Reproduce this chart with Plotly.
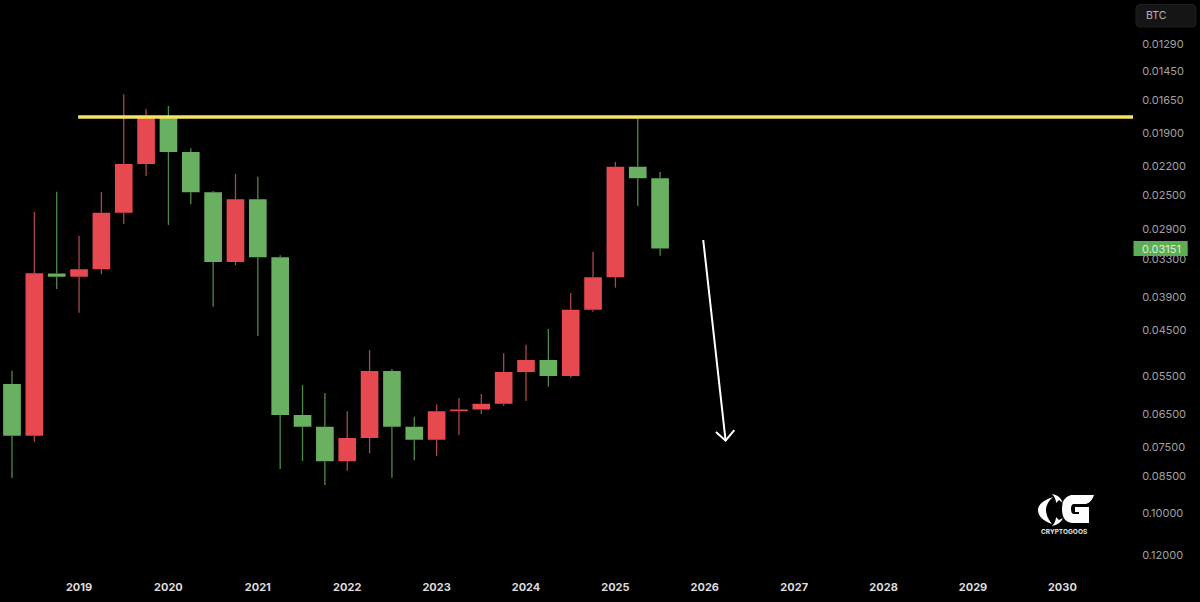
import numpy as np
import plotly.graph_objects as go

# quarterly candles, BTC pair on an inverted log axis (first candle Q2 2018)
candle_open = [0.05690, 0.07131, 0.03513, 0.03562, 0.03449, 0.02694, 0.02178, 0.01774, 0.02067, 0.02464,
               0.03341, 0.02541, 0.03273, 0.06514, 0.06856, 0.07974, 0.07203, 0.05376, 0.06856, 0.07256,
               0.06410, 0.06360, 0.06201, 0.05400, 0.05124, 0.05494, 0.04114, 0.03572, 0.02204, 0.02318]
candle_close = [0.07131, 0.03510, 0.03562, 0.03449, 0.02694, 0.02178, 0.01774, 0.02067, 0.02464, 0.03341,
                0.02541, 0.03273, 0.06514, 0.06856, 0.07974, 0.07203, 0.05376, 0.06856, 0.07256, 0.06410,
                0.06360, 0.06201, 0.05400, 0.05124, 0.05494, 0.04114, 0.03572, 0.02204, 0.02318, 0.03151]
candle_high = [0.08577, 0.07320, 0.03759, 0.04168, 0.03525, 0.02830, 0.02295, 0.02842, 0.02597, 0.04061,
               0.03389, 0.04615, 0.08247, 0.07964, 0.08843, 0.08308, 0.07700, 0.08566, 0.07939, 0.07791,
               0.07109, 0.06486, 0.06255, 0.06129, 0.05758, 0.05536, 0.04150, 0.03737, 0.02616, 0.03250]
candle_low = [0.05369, 0.02682, 0.02458, 0.02978, 0.02461, 0.01607, 0.01713, 0.01691, 0.02034, 0.02451,
              0.02273, 0.02302, 0.03244, 0.05715, 0.05918, 0.06410, 0.04906, 0.05329, 0.06562, 0.06218,
              0.06049, 0.05944, 0.04977, 0.04793, 0.04476, 0.03825, 0.03194, 0.02159, 0.01774, 0.02255]

year_ticks = [3, 7, 11, 15, 19, 23, 27, 31, 35, 39, 43, 47]
year_labels = ["2019", "2020", "2021", "2022", "2023", "2024", "2025", "2026", "2027", "2028", "2029", "2030"]
price_ticks = [0.0129, 0.0145, 0.0165, 0.019, 0.022, 0.025, 0.029, 0.033, 0.039, 0.045, 0.055, 0.065, 0.075,
               0.085, 0.10, 0.12]
price_labels = ["0.01290", "0.01450", "0.01650", "0.01900", "0.02200", "0.02500", "0.02900", "0.03300",
                "0.03900", "0.04500", "0.05500", "0.06500", "0.07500", "0.08500", "0.10000", "0.12000"]

resistance_x = [2.96, 50.2]
resistance_y = [0.01774, 0.01774]
arrow_x = [30.93, 31.93, None, 31.50, 31.93, 32.32]
arrow_y = [0.03035, 0.07287, None, 0.07016, 0.07287, 0.06956]
last_price = "0.03151"

GREEN = "#69b060"
RED = "#e64a50"
GREEN_WICK = "#4d8a4a"
RED_WICK = "#a9474a"
PLOT_W = 1133
PLOT_H = 575

idx = np.arange(len(candle_open))
body_top = np.minimum(candle_open, candle_close)
body_bot = np.maximum(candle_open, candle_close)


def wick_path(up):
    # upper and lower wick as separate segments so they don't cross the body
    xs, ys = [], []
    for i in idx:
        if (candle_close[i] > candle_open[i]) != up:
            continue
        xs += [i, i, None, i, i, None]
        ys += [candle_low[i], body_top[i], None, body_bot[i], candle_high[i], None]
    return xs, ys


def px(x):
    return x / PLOT_W


def py(y):
    return 1 - y / PLOT_H


def pixel_path(points):
    # M/L/Q path written in screen pixels, converted to paper coords
    out = []
    for cmd, *vals in points:
        coords = []
        for j in range(0, len(vals), 2):
            coords.append(f"{px(vals[j]):.5f},{py(vals[j + 1]):.5f}")
        out.append(cmd + " ".join(coords))
    return " ".join(out) + " Z"


fig = go.Figure()

fig.add_trace(go.Candlestick(
    x=idx, open=candle_open, close=candle_close, high=body_bot, low=body_top,
    increasing=dict(fillcolor=GREEN, line=dict(color=GREEN, width=0)),
    decreasing=dict(fillcolor=RED, line=dict(color=RED, width=0)),
    hoverinfo="skip", showlegend=False,
))

for up, col in [(True, GREEN_WICK), (False, RED_WICK)]:
    wx, wy = wick_path(up)
    fig.add_trace(go.Scatter(x=wx, y=wy, mode="lines", line=dict(color=col, width=1.3),
                             hoverinfo="skip", showlegend=False))

fig.add_trace(go.Scatter(x=resistance_x, y=resistance_y, mode="lines",
                         line=dict(color="#f6e35f", width=3.5), hoverinfo="skip", showlegend=False))
fig.add_trace(go.Scatter(x=arrow_x, y=arrow_y, mode="lines",
                         line=dict(color="#ffffff", width=2), hoverinfo="skip", showlegend=False))

shapes = [
    # BTC box
    dict(type="path", xref="paper", yref="paper", layer="above", fillcolor="#151515",
         line=dict(color="#1e1e1e", width=1),
         path=pixel_path([("M", 1140, 4.5), ("L", 1192, 4.5), ("Q", 1196, 4.5, 1196, 8.5), ("L", 1196, 23),
                          ("Q", 1196, 27, 1192, 27), ("L", 1140, 27), ("Q", 1136, 27, 1136, 23),
                          ("L", 1136, 8.5), ("Q", 1136, 4.5, 1140, 4.5)])),
    # last price tag
    dict(type="rect", xref="paper", yref="paper", layer="above", fillcolor="#5dad55", line=dict(width=0),
         x0=px(1133.5), x1=px(1187.7), y0=py(241), y1=py(256)),
    # logo: C crescent and swooshes, G with wing
    dict(type="path", xref="paper", yref="paper", layer="above", fillcolor="#ffffff", line=dict(width=0),
         path=pixel_path([("M", 1053, 497), ("Q", 1038, 502, 1038, 510), ("Q", 1038, 519, 1052, 524),
                          ("Q", 1046, 517, 1046, 510), ("Q", 1046, 503, 1053, 497)])),
    dict(type="path", xref="paper", yref="paper", layer="above", fillcolor="#ffffff", line=dict(width=0),
         path=pixel_path([("M", 1052, 494), ("Q", 1060, 495, 1063, 503), ("L", 1059, 500),
                          ("L", 1056, 503), ("Q", 1056, 498, 1052, 494)])),
    dict(type="path", xref="paper", yref="paper", layer="above", fillcolor="#ffffff", line=dict(width=0),
         path=pixel_path([("M", 1052, 526), ("Q", 1060, 525, 1063, 518), ("L", 1059, 520),
                          ("L", 1056, 517), ("Q", 1056, 522, 1052, 526)])),
    dict(type="path", xref="paper", yref="paper", layer="above", fillcolor="#ffffff", line=dict(width=0),
         path=pixel_path([("M", 1071, 495), ("L", 1094, 495), ("Q", 1092, 502, 1086, 504), ("L", 1074, 504),
                          ("Q", 1071, 504, 1071, 509), ("Q", 1071, 514, 1074, 514), ("L", 1079, 514),
                          ("L", 1079, 512), ("L", 1075, 512), ("L", 1075, 507), ("L", 1089, 507),
                          ("L", 1089, 523), ("L", 1072, 523), ("Q", 1062, 522, 1062, 509),
                          ("Q", 1062, 497, 1071, 495)])),
]

annotations = [
    dict(text="BTC", xref="paper", yref="paper", x=px(1144), y=py(15.5), xanchor="left", yanchor="middle",
         showarrow=False, font=dict(family="Inter", size=10.5, color="#b5b5b5")),
    dict(text=last_price, xref="paper", yref="paper", x=px(1161), y=py(248.5), xanchor="center", yanchor="middle",
         showarrow=False, font=dict(family="Inter", size=11, color="#d8ecd5")),
    dict(text="<b>CRYPTOGOOS</b>", xref="paper", yref="paper", x=px(1064), y=py(532), xanchor="center",
         yanchor="middle", showarrow=False, font=dict(family="Inter", size=6.5, color="#e6e6e6")),
]

fig.update_layout(
    width=1200, height=602,
    margin=dict(l=0, r=1200 - PLOT_W, t=0, b=602 - PLOT_H, pad=0),
    paper_bgcolor="#000000", plot_bgcolor="#000000",
    showlegend=False, boxgap=0.21, boxgroupgap=0,
    shapes=shapes, annotations=annotations,
    xaxis=dict(
        range=[-0.537, 50.16], rangeslider=dict(visible=False), showgrid=False, zeroline=False, showline=False,
        tickmode="array", tickvals=year_ticks, ticktext=[f"<b>{y}</b>" for y in year_labels],
        ticks="outside", ticklen=2, tickcolor="#000000",
        tickfont=dict(family="Inter", size=11, color="#dcdcdc"),
    ),
    yaxis=dict(
        type="log", side="right", range=[np.log10(0.13097), np.log10(0.010647)],
        showgrid=False, zeroline=False, showline=False,
        tickmode="array", tickvals=price_ticks, ticktext=price_labels,
        ticks="outside", ticklen=6, tickcolor="#000000",
        tickfont=dict(family="Inter", size=11, color="#a0a0a0"),
    ),
)

fig.write_html("out.html", config={"displayModeBar": False}, post_script="document.body.style.margin='0';")
